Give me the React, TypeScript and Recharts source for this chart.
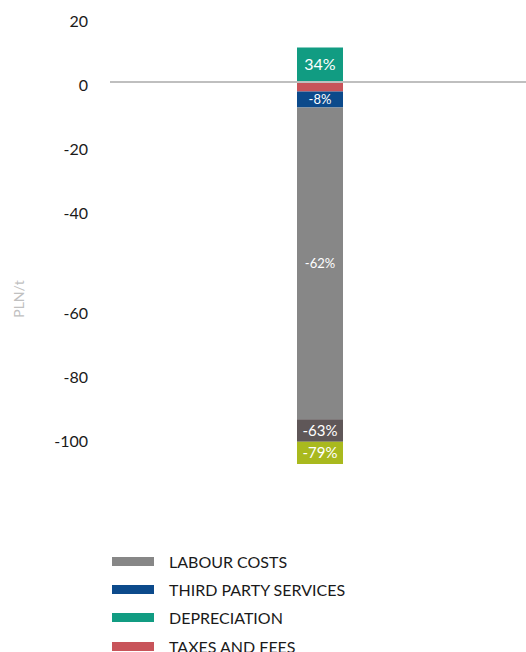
import React from 'react';
import { BarChart, Bar, XAxis, YAxis, ReferenceLine, LabelList, Label } from 'recharts';

const CATEGORIES = ['Cost structure'];
const DEPRECIATION = [10.8];
const TAXES_AND_FEES = [-3];
const THIRD_PARTY_SERVICES = [-5];
const LABOUR_COSTS = [-97.4];
const OTHER_A = [-7];
const OTHER_B = [-7];

const DEPRECIATION_LABELS = ['34%'];
const THIRD_PARTY_LABELS = ['-8%'];
const LABOUR_LABELS = ['-62%'];
const OTHER_A_LABELS = ['-63%'];
const OTHER_B_LABELS = ['-79%'];

const TICK_VALUES = [20, 0, -20, -40, -71.5, -91.5, -111.5];
const TICK_LABELS = ['20', '0', '-20', '-40', '-60', '-80', '-100'];

const LEGEND_NAMES = ['LABOUR COSTS', 'THIRD PARTY SERVICES', 'DEPRECIATION', 'TAXES AND FEES'];

const COLORS = {
  labour: '#878787',
  third: '#0c4a8b',
  depreciation: '#119c82',
  taxes: '#c8545a',
  otherA: '#5f5758',
  otherB: '#a9b91e',
};
const LEGEND_COLORS = [COLORS.labour, COLORS.third, COLORS.depreciation, COLORS.taxes];

const data = CATEGORIES.map((c, i) => ({
  name: c,
  taxes: TAXES_AND_FEES[i],
  third: THIRD_PARTY_SERVICES[i],
  labour: LABOUR_COSTS[i],
  otherA: OTHER_A[i],
  otherB: OTHER_B[i],
  depreciation: DEPRECIATION[i],
  depreciationLabel: DEPRECIATION_LABELS[i],
  thirdLabel: THIRD_PARTY_LABELS[i],
  labourLabel: LABOUR_LABELS[i],
  otherALabel: OTHER_A_LABELS[i],
  otherBLabel: OTHER_B_LABELS[i],
}));

const FONT = 'Lato, "Open Sans", sans-serif';

const LegendBox = () => (
  <div style={{ position: 'absolute', left: 0, top: 547, width: 526, fontFamily: FONT }}>
    {LEGEND_NAMES.map((n, i) => (
      <div key={n} style={{ display: 'flex', alignItems: 'center', height: 28.3 }}>
        <div style={{ width: 42, height: 9, background: LEGEND_COLORS[i], marginLeft: 112 }} />
        <span style={{ marginLeft: 15, fontSize: 16, color: '#1a1a1a' }}>{n}</span>
      </div>
    ))}
  </div>
);

const yLabel = () => (
  <text x={24} y={299} transform="rotate(-90 24 299)" textAnchor="middle" fill="#c0c0c0" fontSize={14} fontFamily={FONT}>
    PLN/t
  </text>
);

export default function App() {
  return (
    <div style={{ position: 'absolute', left: 0, top: 0, width: 526, height: 652, overflow: 'hidden' }}>
      <BarChart
        width={526}
        height={652}
        data={data}
        stackOffset="sign"
        margin={{ top: 18, right: -4, bottom: 154, left: 0 }}
        barSize={46}
      >
        <XAxis dataKey="name" hide />
        <YAxis
          type="number"
          domain={[-130, 20]}
          ticks={TICK_VALUES}
          interval={0}
          width={110}
          axisLine={false}
          tickLine={false}
          tickSize={0}
          tickMargin={22}
          tick={{ fill: '#1a1a1a', fontSize: 16, fontFamily: FONT, dy: 3 }}
          tickFormatter={(v: number) => TICK_LABELS[TICK_VALUES.indexOf(v)] ?? ''}
        >
          <Label content={yLabel} />
        </YAxis>
        <Bar dataKey="taxes" stackId="s" fill={COLORS.taxes} isAnimationActive={false} />
        <Bar dataKey="third" stackId="s" fill={COLORS.third} isAnimationActive={false}>
          <LabelList dataKey="thirdLabel" position="center" fill="#ffffff" fontSize={13} fontFamily={FONT} />
        </Bar>
        <Bar dataKey="labour" stackId="s" fill={COLORS.labour} isAnimationActive={false}>
          <LabelList dataKey="labourLabel" position="center" fill="#ffffff" fontSize={13} fontFamily={FONT} />
        </Bar>
        <Bar dataKey="otherA" stackId="s" fill={COLORS.otherA} isAnimationActive={false}>
          <LabelList dataKey="otherALabel" position="center" fill="#ffffff" fontSize={15} fontFamily={FONT} />
        </Bar>
        <Bar dataKey="otherB" stackId="s" fill={COLORS.otherB} isAnimationActive={false}>
          <LabelList dataKey="otherBLabel" position="center" fill="#ffffff" fontSize={15} fontFamily={FONT} />
        </Bar>
        <Bar dataKey="depreciation" stackId="s" fill={COLORS.depreciation} isAnimationActive={false}>
          <LabelList dataKey="depreciationLabel" position="center" fill="#ffffff" fontSize={16} fontFamily={FONT} />
        </Bar>
        <ReferenceLine y={0} stroke="#bfbfbf" strokeWidth={2} />
      </BarChart>
      <LegendBox />
    </div>
  );
}
